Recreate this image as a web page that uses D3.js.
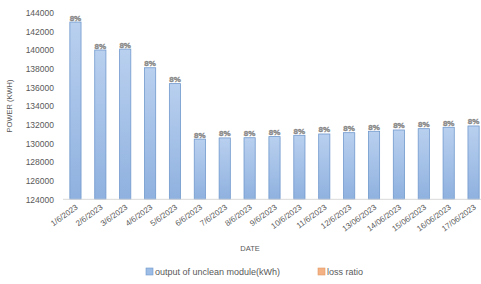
<!DOCTYPE html>
<html>
<head>
<meta charset="utf-8">
<script src="https://cdn.jsdelivr.net/npm/d3@7"></script>
<style>
  body { margin: 0; background: #fff; }
  svg { display: block; font-family: "Liberation Sans", "DejaVu Sans", sans-serif; }
</style>
</head>
<body>
<svg id="chart" width="481" height="284"></svg>
<script>
// chart data
const dates = ["1/6/2023", "2/6/2023", "3/6/2023", "4/6/2023", "5/6/2023", "6/6/2023",
  "7/6/2023", "8/6/2023", "9/6/2023", "10/6/2023", "11/6/2023", "12/6/2023",
  "13/06/2023", "14/06/2023", "15/06/2023", "16/06/2023", "17/06/2023"];
const output = [143000, 140000, 140100, 138100, 136400, 130450, 130580, 130600, 130720,
  130860, 131000, 131140, 131290, 131430, 131570, 131720, 131860];
const lossLabels = dates.map(() => "8%");
const yTicks = [124000, 126000, 128000, 130000, 132000, 134000, 136000, 138000, 140000, 142000, 144000];

const svg = d3.select("#chart");
const plotLeft = 63, plotRight = 486, plotTop = 12.7, plotBottom = 199.3;

const x = d3.scaleBand().domain(dates).range([plotLeft, plotRight]).paddingInner(0.55).paddingOuter(0.275);
const y = d3.scaleLinear().domain([124000, 144000]).range([plotBottom, plotTop]);

// gradient for bars
const defs = svg.append("defs");
const grad = defs.append("linearGradient").attr("id", "barGrad")
  .attr("x1", 0).attr("y1", 0).attr("x2", 0).attr("y2", 1);
grad.append("stop").attr("offset", "0%").attr("stop-color", "#b9d0ef");
grad.append("stop").attr("offset", "100%").attr("stop-color", "#8fb1df");

// y axis labels (no axis line)
const yAxis = svg.append("g").attr("transform", `translate(${plotLeft},0)`)
  .call(d3.axisLeft(y).tickValues(yTicks).tickSize(0).tickPadding(9).tickFormat(d3.format("d")));
yAxis.select(".domain").remove();
yAxis.selectAll("text").attr("fill", "#595959").style("font-size", "8.5px");

// bars
svg.append("g").selectAll("rect").data(output).enter().append("rect")
  .attr("x", (d, i) => x(dates[i]))
  .attr("y", d => y(d))
  .attr("width", x.bandwidth())
  .attr("height", d => plotBottom - y(d))
  .attr("fill", "url(#barGrad)")
  .attr("stroke", "#7199cd")
  .attr("stroke-width", 0.8);

// baseline
svg.append("line").attr("x1", plotLeft).attr("x2", plotRight).attr("y1", plotBottom).attr("y2", plotBottom)
  .attr("stroke", "#d9d9d9").attr("stroke-width", 1);

// data labels
svg.append("g").selectAll("text").data(output).enter().append("text")
  .attr("x", (d, i) => x(dates[i]) + x.bandwidth() / 2)
  .attr("y", d => y(d) - 1.5)
  .attr("text-anchor", "middle")
  .attr("fill", "#9a9a9a")
  .attr("stroke", "#7f7f7f").attr("stroke-width", 0.4)
  .style("font-size", "8px").style("font-weight", "bold")
  .text((d, i) => lossLabels[i]);

// x axis labels
const xAxis = svg.append("g").attr("transform", `translate(0,${plotBottom})`)
  .call(d3.axisBottom(x).tickSize(0).tickPadding(0));
xAxis.select(".domain").remove();
xAxis.selectAll("text")
  .attr("fill", "#595959").style("font-size", "8px")
  .attr("text-anchor", "end")
  .attr("dy", 0)
  .attr("transform", "translate(3,9) rotate(-36)");

// axis titles
svg.append("text").attr("x", 250).attr("y", 251).attr("text-anchor", "middle")
  .attr("fill", "#595959").style("font-size", "7.5px").text("DATE");
svg.append("text").attr("transform", "translate(12,106) rotate(-90)").attr("text-anchor", "middle")
  .attr("fill", "#595959").style("font-size", "7.5px").text("POWER (KWH)");

// legend
const legend = [
  { label: "output of unclean module(kWh)", color: "#9dbde6", stroke: "#6f97cc", x: 146 },
  { label: "loss ratio", color: "#f4b183", stroke: "#e09a66", x: 318 }
];
const lg = svg.append("g").selectAll("g").data(legend).enter().append("g")
  .attr("transform", d => `translate(${d.x},272)`);
lg.append("rect").attr("x", 0).attr("y", -4).attr("width", 7).attr("height", 7)
  .attr("fill", d => d.color).attr("stroke", d => d.stroke).attr("stroke-width", 0.6);
lg.append("text").attr("x", 9).attr("y", 3).attr("fill", "#595959").style("font-size", "9px")
  .text(d => d.label);
</script>
</body>
</html>
